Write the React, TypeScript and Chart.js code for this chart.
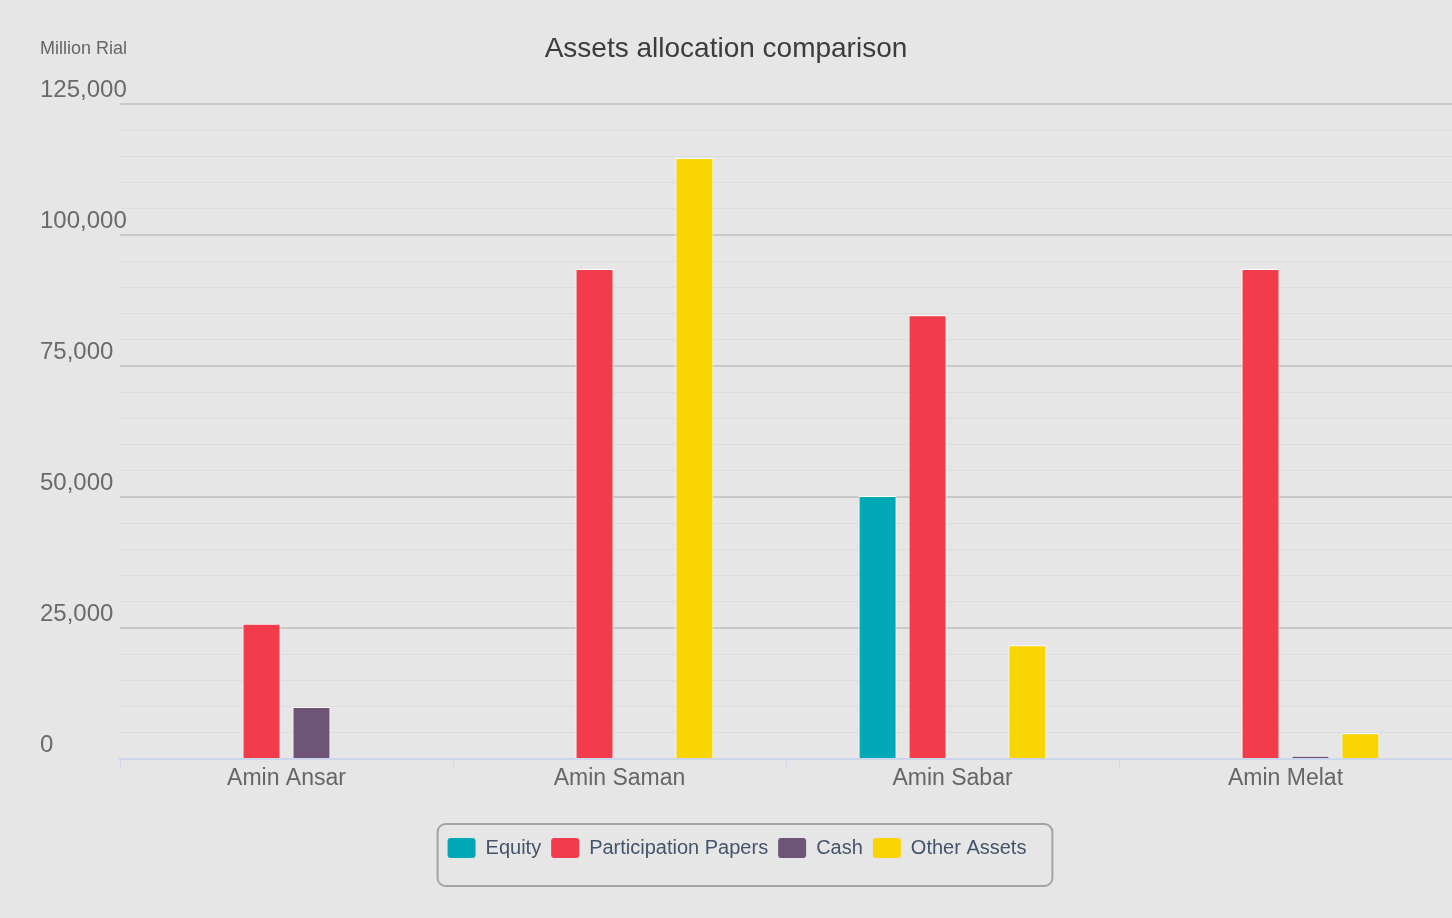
import React, { useEffect, useRef } from 'react';
import { Chart, registerables } from 'chart.js';

Chart.register(...registerables);

const categories = ['Amin Ansar', 'Amin Saman', 'Amin Sabar', 'Amin Melat'];
const equity = [null, null, 50200, null];
const participationPapers = [25800, 93500, 84700, 93500];
const cash = [9900, null, null, 600];
const otherAssets = [null, 114700, 21700, 4900];

const seriesNames = ['Equity', 'Participation Papers', 'Cash', 'Other Assets'];
const seriesColors = ['#01a8b5', '#f23b4b', '#6e5476', '#fad504'];

const yMin = 0;
const yMax = 125000;
const yMajorStep = 25000;
const yMinorStep = 5000;

const chartTitle = 'Assets allocation comparison';
const unitLabel = 'Million Rial';

const FONT = "'Liberation Sans', Arial, sans-serif";

const layoutTweaks = {
  id: 'layoutTweaks',
  afterLayout(chart: any) {
    const t = chart.titleBlock;
    if (t) {
      t.left = 0;
      t.right = chart.width;
    }
    const l = chart.legend;
    if (l) {
      l.left = 22;
      l.right = chart.width;
    }
    const y = chart.scales.y;
    if (y) {
      y._computeLabelArea = () => undefined;
    }
  },
};

const extras = {
  id: 'extras',
  afterDraw(chart: any) {
    const ctx = chart.ctx;
    ctx.save();
    ctx.font = `18px ${FONT}`;
    ctx.fillStyle = '#666666';
    ctx.textAlign = 'left';
    ctx.textBaseline = 'middle';
    ctx.fillText(unitLabel, chart.scales.y.left, 49);
    const hb = chart.legend && chart.legend.legendHitBoxes;
    if (hb && hb.length) {
      const first = hb[0];
      const last = hb[hb.length - 1];
      const cy = first.top + first.height / 2;
      const x0 = first.left - 10;
      const x1 = last.left + last.width + 26;
      const y0 = cy - 24;
      const y1 = cy + 38;
      ctx.beginPath();
      ctx.roundRect(x0, y0, x1 - x0, y1 - y0, 8);
      ctx.lineWidth = 2;
      ctx.strokeStyle = '#a3a3a3';
      ctx.stroke();
    }
    ctx.restore();
  },
};

export default function App() {
  const ref = useRef<HTMLCanvasElement | null>(null);

  useEffect(() => {
    if (!ref.current) return;
    const values = [equity, participationPapers, cash, otherAssets];
    const chart = new Chart(ref.current, {
      type: 'bar',
      data: {
        labels: categories,
        datasets: seriesNames.map((name, i) => ({
          label: name,
          data: values[i],
          backgroundColor: seriesColors[i],
          borderColor: '#ffffff',
          borderWidth: 1,
          categoryPercentage: 0.6,
          barPercentage: 0.76,
        })),
      },
      options: {
        responsive: false,
        animation: false,
        layout: { padding: { left: 40, right: 0, top: 0, bottom: 50 } },
        plugins: {
          title: {
            display: true,
            text: chartTitle,
            color: '#3c3c3c',
            font: { family: FONT, size: 28, weight: 'normal' },
            padding: { top: 32, bottom: 38.4 },
          },
          legend: {
            display: true,
            position: 'bottom',
            labels: {
              boxWidth: 28,
              boxHeight: 20,
              padding: 10,
              color: '#43546b',
              font: { family: FONT, size: 20 },
              useBorderRadius: true,
              borderRadius: 3,
              generateLabels: (c: any) =>
                c.data.datasets.map((ds: any, i: number) => ({
                  text: ds.label,
                  fillStyle: ds.backgroundColor,
                  strokeStyle: ds.backgroundColor,
                  lineWidth: 0,
                  hidden: !c.isDatasetVisible(i),
                  datasetIndex: i,
                  fontColor: '#43546b',
                  borderRadius: 3,
                })),
            },
          },
          tooltip: { enabled: false },
        },
        scales: {
          x: {
            grid: {
              offset: true,
              drawOnChartArea: false,
              drawTicks: true,
              tickLength: 8,
              color: '#ccd6eb',
            },
            border: { display: true, color: '#ccd6eb', width: 2 },
            ticks: {
              color: '#666666',
              padding: -2,
              font: { family: FONT, size: 23 },
            },
            afterFit: (s: any) => {
              s.height = 69;
            },
          },
          y: {
            min: yMin,
            max: yMax,
            border: { display: false },
            grid: {
              drawTicks: false,
              color: (c: any) =>
                c.tick.value === 0
                  ? 'rgba(0,0,0,0)'
                  : c.tick.value % yMajorStep === 0
                  ? '#c8c8c8'
                  : '#dcdcdc',
              lineWidth: (c: any) => (c.tick.value % yMajorStep === 0 ? 2 : 1),
            },
            ticks: {
              stepSize: yMinorStep,
              autoSkip: false,
              crossAlign: 'far',
              labelOffset: -14,
              color: '#6a6a6a',
              font: { family: FONT, size: 24 },
              callback: (v: any) =>
                Number(v) % yMajorStep === 0 ? Number(v).toLocaleString('en-US') : '',
            },
            afterFit: (s: any) => {
              s.width = 80;
            },
          },
        },
      } as any,
      plugins: [layoutTweaks, extras],
    });
    return () => chart.destroy();
  }, []);

  return (
    <div
      style={{
        position: 'fixed',
        left: 0,
        top: 0,
        width: 1452,
        height: 918,
        background: '#e6e6e6',
      }}
    >
      <canvas ref={ref} width={1452} height={918} />
    </div>
  );
}
